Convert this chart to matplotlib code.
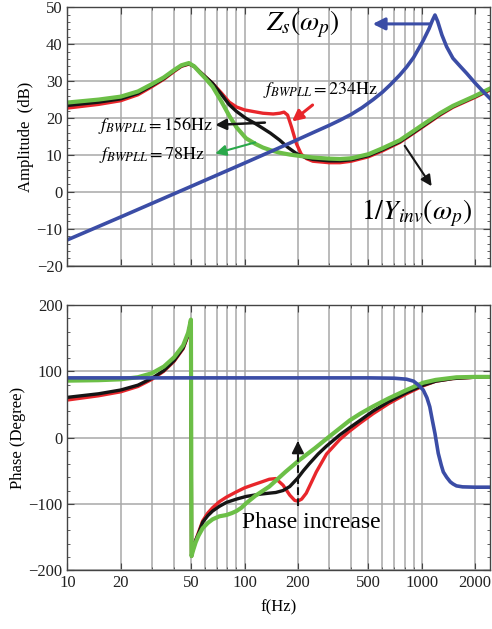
import numpy as np
import matplotlib
matplotlib.use('Agg')
import matplotlib.pyplot as plt
from matplotlib.ticker import FixedLocator, NullFormatter, AutoMinorLocator, LogLocator

plt.rcParams['font.family'] = 'serif'
plt.rcParams['font.serif'] = ['Liberation Serif', 'DejaVu Serif']
plt.rcParams['mathtext.fontset'] = 'stix'

# ---------------- amplitude (dB) ----------------
f_amp_green = [10, 15, 20, 25, 30, 35, 40, 44, 48.5, 52, 56, 60, 66, 74, 82, 90, 102, 115, 127, 140,
               158, 180, 200, 243, 300, 345, 400, 500, 600, 753, 900, 1000, 1268, 1500, 2000, 2430]
amp_green = [24.2, 25.0, 25.8, 27.2, 29.2, 31.0, 33.0, 34.3, 34.9, 34.0, 32.3, 30.8, 28.5, 24.5, 20.6,
             17.5, 14.5, 13.0, 12.0, 11.3, 10.6, 10.1, 9.8, 9.3, 9.0, 8.9, 9.1, 10.2, 11.8, 14.0, 16.5,
             18.0, 21.3, 23.3, 26.0, 28.0]

f_amp_black = [10, 15, 20, 25, 30, 35, 40, 44, 48.5, 52, 56, 60, 66, 74, 82, 90, 102, 115, 127, 140,
               158, 175, 196, 220, 243, 300, 345, 400, 500, 600, 753, 900, 1000, 1268, 1500, 2000, 2430]
amp_black = [23.4, 24.3, 25.2, 26.7, 28.8, 30.7, 32.8, 34.1, 34.7, 34.0, 32.5, 31.2, 29.4, 26.4, 23.6,
             21.8, 19.9, 18.5, 17.2, 15.9, 14.0, 12.1, 10.4, 9.3, 8.8, 8.4, 8.4, 8.7, 9.8, 11.4, 13.6,
             16.1, 17.6, 21.0, 23.1, 25.8, 27.8]

f_amp_red = [10, 15, 20, 25, 30, 35, 40, 44, 48.5, 52, 56, 60, 66, 74, 82, 90, 100, 111, 127, 145, 158,
             167, 175, 184, 196, 209, 224, 243, 300, 345, 400, 500, 600, 753, 900, 1000, 1268, 1500,
             2000, 2430]
amp_red = [22.7, 23.7, 24.7, 26.3, 28.5, 30.5, 32.6, 34.0, 34.6, 34.0, 32.5, 31.2, 29.4, 26.8, 24.3,
           23.0, 22.2, 21.8, 21.3, 21.1, 21.3, 21.6, 20.8, 17.6, 13.1, 10.2, 9.0, 8.3, 7.9, 7.9, 8.3,
           9.5, 11.1, 13.4, 15.9, 17.4, 20.8, 22.9, 25.6, 27.6]

f_amp_blue = [10, 20, 50, 100, 180, 250, 300, 345, 400, 460, 532, 600, 661, 750, 821, 900, 1020, 1100,
              1150, 1188, 1230, 1300, 1383, 1500, 1650, 1795, 2000, 2200, 2430]
amp_blue = [-13.0, -6.8, 1.5, 7.8, 13.2, 16.3, 18.0, 19.4, 21.0, 22.8, 25.0, 27.0, 28.9, 31.6, 33.8,
            36.4, 41.0, 44.2, 46.5, 47.9, 46.2, 42.5, 39.3, 36.2, 34.0, 32.1, 29.5, 27.4, 25.3]

# ---------------- phase (degree) ----------------
f_ph_green = [10, 15, 20, 25, 30, 35, 40, 45, 48, 49.8, 50.2, 51, 53, 55, 58, 62, 66, 72, 79, 85, 90,
              96, 102, 115, 138, 170, 204, 250, 290, 345, 393, 450, 532, 650, 821, 1020, 1200, 1570,
              2000, 2430]
ph_green = [85.8, 86.5, 87.8, 91, 97, 107, 121, 139, 158, 178, -179, -172, -158, -148, -137, -129,
            -123.5, -119, -117, -114, -111, -106, -99.3, -88, -74, -52, -34, -16, -2, 14, 26, 36, 47,
            59, 71.7, 82.7, 87, 90.9, 91.5, 91.5]

f_ph_black = [10, 15, 20, 25, 30, 35, 40, 45, 48, 49.8, 50.2, 51, 53, 55, 58, 62, 66, 72, 79, 90, 102,
              121, 138, 150, 165, 180, 200, 215, 233, 260, 290, 345, 393, 450, 532, 650, 821, 1020,
              1200, 1500, 2000, 2430]
ph_black = [60.6, 66, 71.7, 79, 89.4, 101, 116, 135, 155, 177, -179, -170, -155, -145, -128, -118,
            -111, -104, -98, -93, -89, -85.7, -84, -83, -80, -74, -61, -50, -39, -25, -13, 4, 15, 26,
            40, 54, 68, 79, 85, 89, 91, 91.5]

f_ph_red = [10, 15, 20, 25, 30, 35, 40, 45, 48, 49.8, 50.2, 51, 53, 55, 58, 62, 66, 72, 79, 90, 100,
            111, 125, 138, 150, 165, 180, 192, 200, 210, 223, 240, 254, 290, 345, 393, 450, 532, 650,
            821, 1020, 1200, 1500, 2000, 2430]
ph_red = [56.6, 63, 69, 77, 87.8, 100, 115, 134, 154, 177, -179, -170, -155, -143, -126, -114, -106,
          -97, -90, -82, -76, -71.7, -67, -63, -62, -72, -87, -95, -96, -93, -84, -66, -52, -25, -3,
          10, 22, 36, 51, 66, 78, 85, 89, 91, 91.5]

f_ph_blue = [10, 100, 500, 700, 821, 900, 950, 1020, 1070, 1110, 1150, 1188, 1240, 1290, 1324, 1383,
             1450, 1500, 1570, 1700, 2000, 2430]
ph_blue = [90, 90, 90, 89.5, 88, 85, 80, 71.7, 60, 46.5, 25, 6, -24, -42, -52, -60, -67, -70, -73,
           -74.5, -75, -75]

xtick_vals = [10, 20, 50, 100, 200, 500, 1000, 2000]

c_red = '#e8262b'
c_black = '#151515'
c_green = '#6cbf47'
c_blue = '#3b4da6'
c_grid = '#a8a8a8'
c_frame = '#444444'


def style_axes(ax, ymin, ymax, ystep):
    ax.set_xscale('log')
    ax.set_xlim(10, 2430)
    ax.set_ylim(ymin, ymax)
    ax.set_yticks(np.arange(ymin, ymax + 1, ystep))
    ax.yaxis.set_minor_locator(AutoMinorLocator(5))
    ax.xaxis.set_major_locator(FixedLocator(xtick_vals))
    ax.xaxis.set_minor_locator(LogLocator(base=10, subs=np.arange(1, 10)))
    ax.xaxis.set_minor_formatter(NullFormatter())
    ax.grid(which='both', axis='x', color=c_grid, lw=1.1)
    ax.grid(which='major', axis='y', color=c_grid, lw=1.1)
    ax.set_axisbelow(True)
    ax.tick_params(which='both', direction='in', top=True, right=True, colors=c_frame,
                   labelcolor='#222222', labelsize=12)
    ax.tick_params(which='major', length=5)
    ax.tick_params(which='minor', length=2.5)
    for s in ax.spines.values():
        s.set_color(c_frame)
        s.set_linewidth(1.0)


fig = plt.figure(figsize=(4.92, 6.29), dpi=100)
ax1 = fig.add_axes([0.137, 0.5776, 0.859, 0.4108])
ax2 = fig.add_axes([0.137, 0.0938, 0.859, 0.4213])

# top: amplitude
ax1.plot(f_amp_red, amp_red, color=c_red, lw=2.4)
ax1.plot(f_amp_black, amp_black, color=c_black, lw=2.4)
ax1.plot(f_amp_green, amp_green, color=c_green, lw=3.0)
ax1.plot(f_amp_blue, amp_blue, color=c_blue, lw=2.6)
style_axes(ax1, -20, 50, 10)
ax1.set_xticklabels([])
ax1.set_ylabel('Amplitude  (dB)', fontsize=12, labelpad=2)

ax1.text(213, 45.3, r'$Z_s(\omega_p)$', fontsize=20, ha='center', va='center')
ax1.annotate('', xy=(510, 45.5), xytext=(1150, 45.5),
             arrowprops=dict(arrowstyle='-|>', color=c_blue, lw=2.2, mutation_scale=18))
ax1.text(269, 27.6, r'$f_{BWPLL}=234\mathrm{Hz}$', fontsize=13, ha='center', va='center')
ax1.annotate('', xy=(180, 18.6), xytext=(249, 24.0),
             arrowprops=dict(arrowstyle='-|>', color=c_red, lw=2.2, mutation_scale=16))
ax1.text(31.5, 18.1, r'$f_{BWPLL}=156\mathrm{Hz}$', fontsize=13, ha='center', va='center')
ax1.annotate('', xy=(66, 18.1), xytext=(135, 18.8),
             arrowprops=dict(arrowstyle='-|>', color=c_black, lw=1.8, mutation_scale=16))
ax1.text(30.0, 10.0, r'$f_{BWPLL}=78\mathrm{Hz}$', fontsize=13, ha='center', va='center')
ax1.annotate('', xy=(66, 10.2), xytext=(119, 13.6),
             arrowprops=dict(arrowstyle='-|>', color='#2aa84a', lw=1.5, mutation_scale=16))
ax1.text(939, -5.7, r'$1/Y_{inv}(\omega_p)$', fontsize=20, ha='center', va='center')
ax1.annotate('', xy=(1161, 0.9), xytext=(786, 13.1),
             arrowprops=dict(arrowstyle='-|>', color=c_black, lw=1.5, mutation_scale=16))

# bottom: phase
ax2.plot(f_ph_red, ph_red, color=c_red, lw=2.4)
ax2.plot(f_ph_black, ph_black, color=c_black, lw=2.4)
ax2.plot(f_ph_green, ph_green, color=c_green, lw=3.0)
ax2.plot(f_ph_blue, ph_blue, color=c_blue, lw=2.6)
style_axes(ax2, -200, 200, 100)
ax2.set_xticklabels([str(v) for v in xtick_vals])
ax2.set_ylabel('Phase (Degree)', fontsize=12, labelpad=2)
ax2.set_xlabel('f(Hz)', fontsize=12, labelpad=6)

ax2.plot([200, 200], [-104, -20], color=c_black, lw=1.5, ls='--')
ax2.annotate('', xy=(200, -1), xytext=(200, -16),
             arrowprops=dict(arrowstyle='-|>', color=c_black, lw=1.5, mutation_scale=18))
ax2.text(239, -129, 'Phase increase', fontsize=17, ha='center', va='center')

fig.savefig('out.png', dpi=100)
